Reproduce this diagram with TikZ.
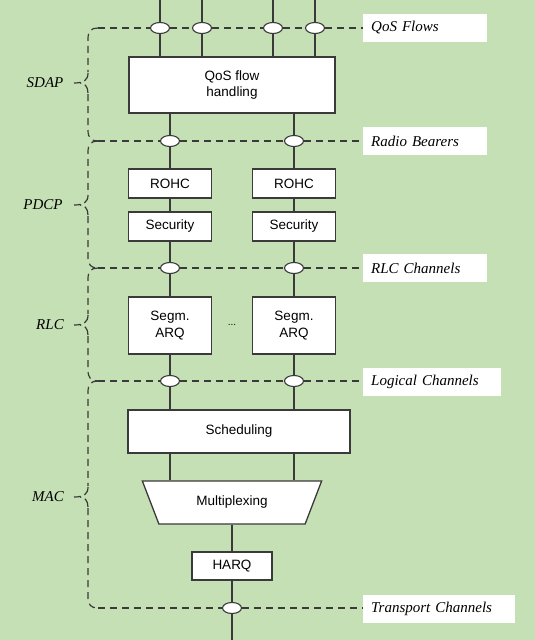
\documentclass[tikz,border=0pt]{standalone}
\usepackage{fontspec}
\setmainfont{Liberation Serif}
\setsansfont{Liberation Sans}
\usetikzlibrary{shapes.geometric}
\definecolor{bg}{HTML}{C5E0B4}
\definecolor{ln}{HTML}{3A3A3A}
\begin{document}
\begin{tikzpicture}[x=1pt,y=-1pt,
 blk/.style={draw=ln, line width=1.3pt, fill=white, font=\sffamily\fontsize{13.5}{16.5}\selectfont, align=center, inner sep=0pt},
 ell/.style={ellipse, draw=ln, line width=1.1pt, fill=white, minimum width=19pt, minimum height=11pt, inner sep=0pt},
 wire/.style={draw=ln, line width=1.4pt},
 dline/.style={draw=ln, line width=1.2pt, dash pattern=on 7pt off 5pt},
 tipline/.style={draw=ln, line width=1.2pt, dash pattern=on 9pt off 4pt on 8pt off 4pt},
 lab/.style={fill=white, inner xsep=8pt, inner ysep=0pt, anchor=west, minimum height=28pt, font=\fontsize{15}{17}\selectfont\itshape, align=left},
 layer/.style={font=\fontsize{15}{17}\selectfont\itshape}
]
\fill[bg] (0,0) rectangle (535,640);
\useasboundingbox (0,0) rectangle (535,640);

% boxes
\node[blk, minimum width=206pt, minimum height=56pt] (qos) at (232,85) {QoS flow\\handling};
\node[blk, minimum width=83pt, minimum height=29pt] (rohc1) at (170,183.5) {ROHC};
\node[blk, minimum width=83pt, minimum height=29pt] (rohc2) at (294,183.5) {ROHC};
\node[blk, minimum width=83pt, minimum height=29pt] (sec1) at (170,226.5) {Security};
\node[blk, minimum width=83pt, minimum height=29pt] (sec2) at (294,226.5) {Security};
\node[blk, minimum width=83pt, minimum height=57pt] (arq1) at (170,325.5) {Segm.\\ARQ};
\node[blk, minimum width=83pt, minimum height=57pt] (arq2) at (294,325.5) {Segm.\\ARQ};
\node[font=\sffamily\fontsize{10}{12}\selectfont] (dots) at (232,325) {...};
\node[blk, minimum width=222pt, minimum height=43pt] (sched) at (239,431.5) {Scheduling};
\node[blk, trapezium, shape border rotate=180, trapezium stretches=true, trapezium angle=57.4, minimum width=180pt, minimum height=43pt] (mux) at (232,502.5) {Multiplexing};
\node[blk, minimum width=80pt, minimum height=28pt] (harq) at (232,566) {HARQ};

% labels
\node[lab, text width=108pt] (lq) at (363,28) {QoS Flows};
\node[lab, text width=108pt] (lrb) at (363,141) {Radio Bearers};
\node[lab, text width=108pt] (lrlc) at (363,268) {RLC Channels};
\node[lab, text width=122pt] (llog) at (363,382) {Logical Channels};
\node[lab, text width=136pt] (ltr) at (363,609) {Transport Channels};

\node[layer] (sdap) at (45,83) {SDAP};
\node[layer] (pdcp) at (43,205) {PDCP};
\node[layer] (rlc) at (50,325) {RLC};
\node[layer] (mac) at (48,497) {MAC};

% ellipses
\foreach \n/\x in {1/160,2/202,3/273,4/315}{
  \node[ell] (q\n) at (\x,28) {};
  \coordinate (t\n) at (\x,0);
}
\node[ell] (rb1) at (170,141) {};
\node[ell] (rb2) at (294,141) {};
\node[ell] (rc1) at (170,268) {};
\node[ell] (rc2) at (294,268) {};
\node[ell] (lc1) at (170,381) {};
\node[ell] (lc2) at (294,381) {};
\node[ell] (tc) at (232,608) {};
\coordinate (bot) at (232,640);

% brace corners
\coordinate (c0) at (98,28);
\coordinate (c1) at (98,141);
\coordinate (c2) at (98,268);
\coordinate (c3) at (98,381);
\coordinate (c4) at (98,608);

% solid wires
\foreach \n in {1,2,3,4}{
  \draw[wire] (t\n) -- (q\n);
  \draw[wire] (q\n) -- (q\n |- qos.north);
}
\draw[wire] (qos.south -| rb1) -- (rb1);
\draw[wire] (qos.south -| rb2) -- (rb2);
\draw[wire] (rb1) -- (rohc1);
\draw[wire] (rb2) -- (rohc2);
\draw[wire] (rohc1) -- (sec1);
\draw[wire] (rohc2) -- (sec2);
\draw[wire] (sec1) -- (rc1);
\draw[wire] (sec2) -- (rc2);
\draw[wire] (rc1) -- (arq1);
\draw[wire] (rc2) -- (arq2);
\draw[wire] (arq1) -- (lc1);
\draw[wire] (arq2) -- (lc2);
\draw[wire] (lc1) -- (lc1 |- sched.north);
\draw[wire] (lc2) -- (lc2 |- sched.north);
\draw[wire] (sched.south -| lc1) -- (mux.north -| lc1);
\draw[wire] (sched.south -| lc2) -- (mux.north -| lc2);
\draw[wire] (harq.north |- mux.south) -- (harq.north);
\draw[wire] (harq) -- (tc);
\draw[wire] (tc) -- (bot);

% dashed channel lines
\draw[dline] (c0) -- (q1) -- (q2) -- (q3) -- (q4) -- (lq.west);
\draw[dline] (c1) -- (rb1) -- (rb2) -- (lrb.west);
\draw[dline] (c2) -- (rc1) -- (rc2) -- (lrlc.west);
\draw[dline] (c3) -- (lc1) -- (lc2) -- (llog.west |- lc2);
\draw[dline] (c4) -- (tc) -- (ltr.west |- tc);

% braces
\foreach \a/\b/\m in {28/141/83, 141/268/205, 268/381/325, 381/608/497}{
  \draw[dline] (98,\a) .. controls (91,\a) and (88,\a+3) .. (88,\a+11) -- (88,\m-11);
  \draw[tipline] (88,\m-10) .. controls (88,\m-3) and (84,\m) .. (74,\m);
  \draw[tipline] (88,\m+10) .. controls (88,\m+3) and (84,\m) .. (80,\m);
  \draw[dline] (88,\m+11) -- (88,\b-11) .. controls (88,\b-3) and (91,\b) .. (98,\b);
}
\end{tikzpicture}
\end{document}
